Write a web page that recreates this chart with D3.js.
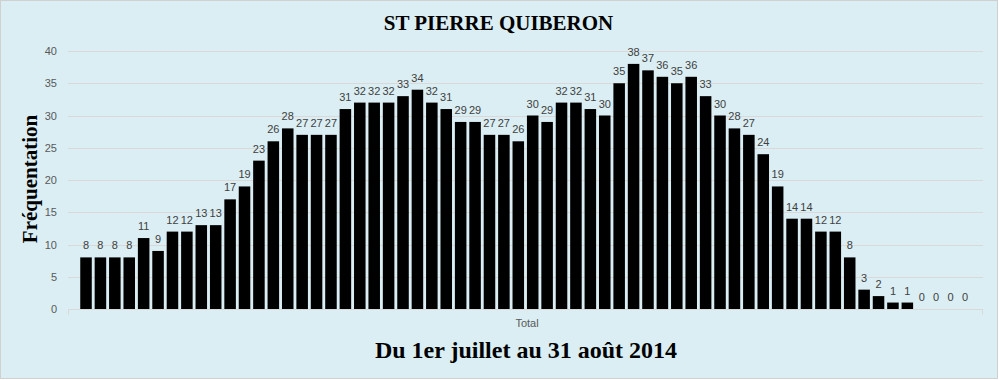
<!DOCTYPE html>
<html>
<head>
<meta charset="utf-8">
<script src="https://cdn.jsdelivr.net/npm/d3@7"></script>
<style>
  html, body { margin: 0; padding: 0; background: #ffffff; }
  svg { display: block; }
</style>
</head>
<body>
<div id="chart"></div>
<script>
// ---- data ----
const title = "ST PIERRE QUIBERON";
const subtitle = "Du 1er juillet au 31 août 2014";
const yTitle = "Fréquentation";
const categoryLabel = "Total";
const days = d3.range(1, 63).map(i => "J" + i); // 1 juillet .. 31 août (62 jours)
const values = [8, 8, 8, 8, 11, 9, 12, 12, 13, 13, 17, 19, 23, 26, 28, 27, 27, 27, 31, 32,
  32, 32, 33, 34, 32, 31, 29, 29, 27, 27, 26, 30, 29, 32, 32, 31, 30, 35, 38, 37,
  36, 35, 36, 33, 30, 28, 27, 24, 19, 14, 14, 12, 12, 8, 3, 2, 1, 1, 0, 0,
  0, 0];
const yTicks = [0, 5, 10, 15, 20, 25, 30, 35, 40];

// ---- layout ----
const W = 999, H = 380;
const plot = { left: 68, right: 983, top: 51, bottom: 309 };

const svg = d3.select("#chart").append("svg")
  .attr("width", W).attr("height", H);

svg.append("rect")
  .attr("x", 0.5).attr("y", 0.5)
  .attr("width", 997).attr("height", 378)
  .attr("fill", "#DAEEF3")
  .attr("stroke", "#D0D0D0").attr("stroke-width", 1);

const x = d3.scaleBand()
  .domain(days)
  .range([plot.left, plot.right])
  .paddingInner(0.2)
  .paddingOuter(0.85);

const y = d3.scaleLinear()
  .domain([0, 40])
  .range([plot.bottom, plot.top]);

// grid lines
svg.append("g")
  .selectAll("line")
  .data(yTicks.filter(d => d > 0))
  .join("line")
  .attr("x1", plot.left).attr("x2", plot.right)
  .attr("y1", d => Math.round(y(d)) + 0.5)
  .attr("y2", d => Math.round(y(d)) + 0.5)
  .attr("stroke", "#D9D9D9").attr("stroke-width", 1);

// y axis labels
const yAxis = d3.axisLeft(y).tickValues(yTicks).tickSize(0).tickPadding(0);
const gy = svg.append("g")
  .attr("transform", `translate(${plot.left - 11},0)`)
  .call(yAxis);
gy.select(".domain").remove();
gy.selectAll("text")
  .attr("fill", "#595959")
  .style("font-family", "'Liberation Sans', Arial, sans-serif")
  .style("font-size", "11px");

// x axis line
const bottomY = Math.round(plot.bottom) + 0.5;
svg.append("line")
  .attr("x1", plot.left).attr("x2", plot.right)
  .attr("y1", bottomY).attr("y2", bottomY)
  .attr("stroke", "#D9D9D9").attr("stroke-width", 1);
[plot.left + 0.5, plot.right - 0.5].forEach(px => {
  svg.append("line")
    .attr("x1", px).attr("x2", px)
    .attr("y1", bottomY).attr("y2", bottomY + 5)
    .attr("stroke", "#D9D9D9").attr("stroke-width", 1);
});
svg.append("line")
  .attr("x1", 527.5).attr("x2", 527.5)
  .attr("y1", bottomY).attr("y2", bottomY + 3)
  .attr("stroke", "#E6E6E6").attr("stroke-width", 1);

// bars
svg.append("g")
  .selectAll("rect")
  .data(values)
  .join("rect")
  .attr("x", (d, i) => x(days[i]))
  .attr("width", x.bandwidth())
  .attr("y", d => y(d))
  .attr("height", d => y(0) - y(d))
  .attr("fill", "#000000");

// value labels
svg.append("g")
  .selectAll("text")
  .data(values)
  .join("text")
  .attr("x", (d, i) => x(days[i]) + x.bandwidth() / 2)
  .attr("y", d => y(d) - 8)
  .attr("text-anchor", "middle")
  .attr("fill", "#404040")
  .style("font-family", "'Liberation Sans', Arial, sans-serif")
  .style("font-size", "11px")
  .text(d => d);

// category label
svg.append("text")
  .attr("x", 527).attr("y", 327)
  .attr("text-anchor", "middle")
  .attr("fill", "#595959")
  .style("font-family", "'Liberation Sans', Arial, sans-serif")
  .style("font-size", "11px")
  .text(categoryLabel);

// titles
svg.append("text")
  .attr("x", 498.5).attr("y", 30)
  .attr("text-anchor", "middle")
  .attr("fill", "#000")
  .style("font-family", "'Liberation Serif', 'Times New Roman', serif")
  .style("font-weight", "bold")
  .style("font-size", "21px")
  .text(title);

svg.append("text")
  .attr("x", 526).attr("y", 358)
  .attr("text-anchor", "middle")
  .attr("fill", "#000")
  .style("font-family", "'Liberation Serif', 'Times New Roman', serif")
  .style("font-weight", "bold")
  .style("font-size", "24px")
  .text(subtitle);

svg.append("text")
  .attr("transform", "translate(37,179) rotate(-90)")
  .attr("text-anchor", "middle")
  .attr("fill", "#000")
  .style("font-family", "'Liberation Serif', 'Times New Roman', serif")
  .style("font-weight", "bold")
  .style("font-size", "21px")
  .text(yTitle);
</script>
</body>
</html>
